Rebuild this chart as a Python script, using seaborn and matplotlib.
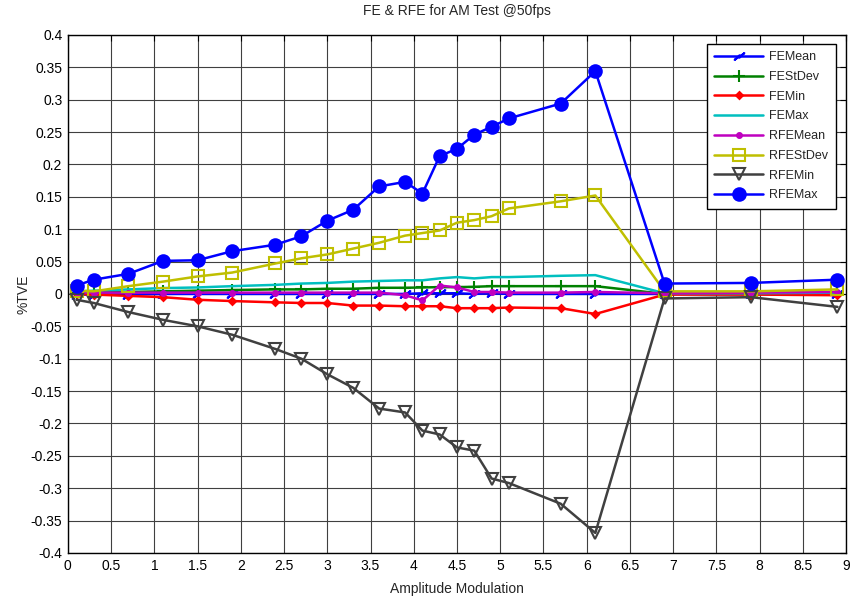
import matplotlib
matplotlib.use("Agg")
import matplotlib.pyplot as plt
import seaborn as sns
import numpy as np
from matplotlib.path import Path

x = [0.1, 0.3, 0.7, 1.1, 1.5, 1.9, 2.4, 2.7, 3.0, 3.3, 3.6, 3.9, 4.1, 4.3, 4.5,
     4.7, 4.9, 5.1, 5.7, 6.1, 6.9, 7.9, 8.9]

fe_mean = [-0.001, -0.001, -0.001, 0.000, 0.000, 0.000, 0.000, 0.000, 0.000, 0.000,
           0.000, 0.000, 0.001, 0.001, 0.001, 0.000, 0.001, 0.000, 0.000, 0.000,
           0.000, 0.000, 0.000]
fe_stdev = [0.001, 0.002, 0.003, 0.004, 0.005, 0.006, 0.007, 0.007, 0.008, 0.008,
            0.0095, 0.0095, 0.010, 0.0105, 0.0105, 0.011, 0.012, 0.012, 0.012, 0.012,
            0.000, 0.000, 0.001]
fe_min = [0.000, -0.001, -0.003, -0.005, -0.009, -0.011, -0.013, -0.014, -0.014, -0.018,
          -0.018, -0.019, -0.019, -0.019, -0.022, -0.022, -0.022, -0.021, -0.022, -0.031,
          -0.001, -0.001, -0.002]
fe_max = [0.004, 0.005, 0.007, 0.009, 0.010, 0.012, 0.014, 0.016, 0.017, 0.019,
          0.020, 0.021, 0.021, 0.024, 0.026, 0.024, 0.026, 0.026, 0.028, 0.029,
          0.001, 0.001, 0.002]
rfe_mean = [0.002, 0.002, 0.002, 0.002, 0.002, 0.002, 0.002, 0.002, 0.002, 0.002,
            0.002, -0.002, -0.010, 0.013, 0.010, 0.003, 0.003, 0.002, 0.002, 0.003,
            0.001, 0.002, 0.003]
rfe_stdev = [0.005, 0.004, 0.012, 0.019, 0.027, 0.033, 0.047, 0.055, 0.061, 0.070,
             0.079, 0.090, 0.094, 0.098, 0.110, 0.114, 0.120, 0.132, 0.143, 0.152,
             0.004, 0.004, 0.007]
rfe_min = [-0.009, -0.014, -0.028, -0.040, -0.050, -0.063, -0.085, -0.100, -0.124, -0.145,
           -0.177, -0.183, -0.211, -0.217, -0.237, -0.242, -0.285, -0.292, -0.324, -0.369,
           -0.007, -0.005, -0.020]
rfe_max = [0.013, 0.022, 0.031, 0.051, 0.052, 0.066, 0.076, 0.089, 0.113, 0.130,
           0.166, 0.173, 0.155, 0.213, 0.224, 0.246, 0.258, 0.271, 0.294, 0.344,
           0.016, 0.017, 0.022]

x_ticks = [0, 0.5, 1, 1.5, 2, 2.5, 3, 3.5, 4, 4.5, 5, 5.5, 6, 6.5, 7, 7.5, 8, 8.5, 9]
y_ticks = [-0.4, -0.35, -0.3, -0.25, -0.2, -0.15, -0.1, -0.05, 0, 0.05, 0.1, 0.15,
           0.2, 0.25, 0.3, 0.35, 0.4]

sns.set_theme(style="white")
plt.rcParams['font.family'] = ['Liberation Sans', 'DejaVu Sans']

bolt = Path([(-1.0, -0.7), (0.15, 0.15), (0.0, -0.25), (1.0, 0.7), (-0.15, -0.15),
             (0.0, 0.25), (-1.0, -0.7)],
            [Path.MOVETO, Path.LINETO, Path.LINETO, Path.LINETO, Path.LINETO,
             Path.LINETO, Path.CLOSEPOLY])

fig = plt.figure(figsize=(8.59, 5.99), dpi=100)
ax = fig.add_axes([0.079, 0.0768, 0.906, 0.865])

series = [
    ("FEMean", fe_mean, (0, 0, 1), bolt, 7, True),
    ("FEStDev", fe_stdev, (0, 0.5, 0), "+", 8, True),
    ("FEMin", fe_min, (1, 0, 0), "D", 3.5, True),
    ("FEMax", fe_max, (0, 0.75, 0.75), None, 0, True),
    ("RFEMean", rfe_mean, (0.75, 0, 0.75), "o", 3.5, True),
    ("RFEStDev", rfe_stdev, (0.75, 0.75, 0), "s", 8, False),
    ("RFEMin", rfe_min, (0.25, 0.25, 0.25), "v", 9, False),
    ("RFEMax", rfe_max, (0, 0, 1), "o", 9, True),
]

for label, vals, col, mk, ms, filled in series:
    kw = dict(color=col, linewidth=1.8, label=label)
    if mk is not None:
        kw.update(marker=mk, markersize=ms, markeredgecolor=col,
                  markerfacecolor=col if filled else "none",
                  markeredgewidth=1.5)
    sns.lineplot(x=x, y=vals, ax=ax, sort=False, estimator=None, **kw)

ax.set_xlim(0, 9)
ax.set_ylim(-0.4, 0.4)
ax.set_xticks(x_ticks)
ax.set_xticklabels([f"{t:g}" for t in x_ticks])
ax.set_yticks(y_ticks)
ax.set_yticklabels([f"{t:g}" for t in y_ticks])
ax.grid(True, color="0.25", linewidth=0.8, linestyle="-")
ax.set_axisbelow(True)
ax.tick_params(direction="in", length=4, width=0.8, top=True, right=True,
               labelsize=10, colors="black", pad=4)
for s in ax.spines.values():
    s.set_color("black")
    s.set_linewidth(1.0)

ax.set_title("FE & RFE for AM Test @50fps", fontsize=10, pad=14)
ax.set_xlabel("Amplitude Modulation", fontsize=10, labelpad=7)
ax.set_ylabel("%TVE", fontsize=10, labelpad=0)

leg = ax.legend(loc="upper right", bbox_to_anchor=(0.995, 0.995), fontsize=9,
                frameon=True, fancybox=False, edgecolor="black",
                framealpha=1, handlelength=3.9, handletextpad=0.5,
                labelspacing=0.62, borderpad=0.6)
leg.get_frame().set_linewidth(1.0)

fig.savefig("out.png", dpi=100)
